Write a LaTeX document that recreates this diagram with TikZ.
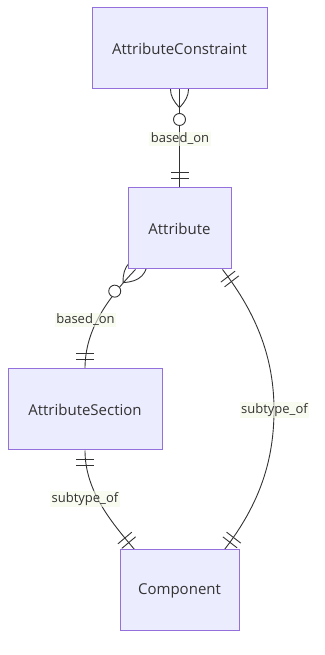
\documentclass[tikz,border=0pt]{standalone}
\usepackage{fontspec}
\setmainfont{Open Sans}
\usetikzlibrary{backgrounds}

\definecolor{entfill}{HTML}{ECECFF}
\definecolor{entline}{HTML}{9370DB}
\definecolor{ink}{HTML}{333333}
\definecolor{lblbg}{HTML}{F4F8E6}

\tikzset{
  ent/.style={draw=entline, fill=entfill, line width=1pt, text=ink,
    font=\fontsize{15}{18}\selectfont, inner sep=0pt, minimum height=81pt},
  edge/.style={draw=ink, line width=0.9pt},
  rel/.style={fill=lblbg, fill opacity=0.6, text opacity=1, text=ink,
    font=\fontsize{13}{15}\selectfont, inner sep=1.5pt},
}

% crow's foot with a ring: zero or more, seen from the entity side
\newcommand\zeromany[2]{%
  \begin{scope}[shift={(#1)},rotate=#2]
    \draw[edge] (-18,0) .. controls (-6,12) and (6,12) .. (18,0)
                        .. controls (6,-12) and (-6,-12) .. (-18,0);
    \draw[edge, fill=white] (30,0) circle (6);
  \end{scope}}
% two bars: exactly one
\newcommand\exactone[2]{%
  \begin{scope}[shift={(#1)},rotate=#2]
    \draw[edge] (9,-9) -- (9,9) (15,-9) -- (15,9);
  \end{scope}}

\begin{document}
\begin{tikzpicture}[x=1pt,y=1pt]
  \useasboundingbox (0,0) rectangle (324,655);

  % entities
  \node[ent, minimum width=175pt] (ac)   at (179.5,606.5) {AttributeConstraint};
  \node[ent, minimum width=103pt] (attr) at (179.5,426.5) {Attribute};
  \node[ent, minimum width=154pt] (sec)  at (85,245.5)    {AttributeSection};
  \node[ent, minimum width=119pt] (comp) at (179.5,64.5)  {Component};

  % end points of the relationship lines
  \coordinate (a2s) at ([xshift=8pt]attr.south west);
  \coordinate (a2c) at ([xshift=-9pt]attr.south east);
  \coordinate (c4s) at ([xshift=15pt]comp.north west);
  \coordinate (c3a) at ([xshift=-15pt]comp.north east);

  \begin{pgfonlayer}{background}
    % AttributeConstraint -- Attribute
    \draw[edge] (ac.south) -- (attr.north);
    \zeromany{ac.south}{-90}
    \exactone{attr.north}{90}

    % Attribute -- AttributeSection
    \draw[edge] (a2s) .. controls +(226.2:42) and +(0,38) .. (sec.north);
    \zeromany{a2s}{226.2}
    \exactone{sec.north}{90}

    % Attribute -- Component
    \draw[edge] (a2c) .. controls +(-52.3:58) and +(0,50) .. (274,245)
                      .. controls +(0,-50) and +(52.3:58) .. (c3a);
    \exactone{a2c}{-52.3}
    \exactone{c3a}{52.3}

    % AttributeSection -- Component
    \draw[edge] (sec.south) .. controls +(0,-42) and +(130:32) .. (c4s);
    \exactone{sec.south}{-90}
    \exactone{c4s}{130}
  \end{pgfonlayer}

  % relationship labels
  \node[rel] (l1) at (180,516)   {based\_on};
  \node[rel] (l2) at (85.5,335)  {based\_on};
  \node[rel] (l3) at (274.5,245) {subtype\_of};
  \node[rel] (l4) at (85,156)    {subtype\_of};
\end{tikzpicture}
\end{document}
